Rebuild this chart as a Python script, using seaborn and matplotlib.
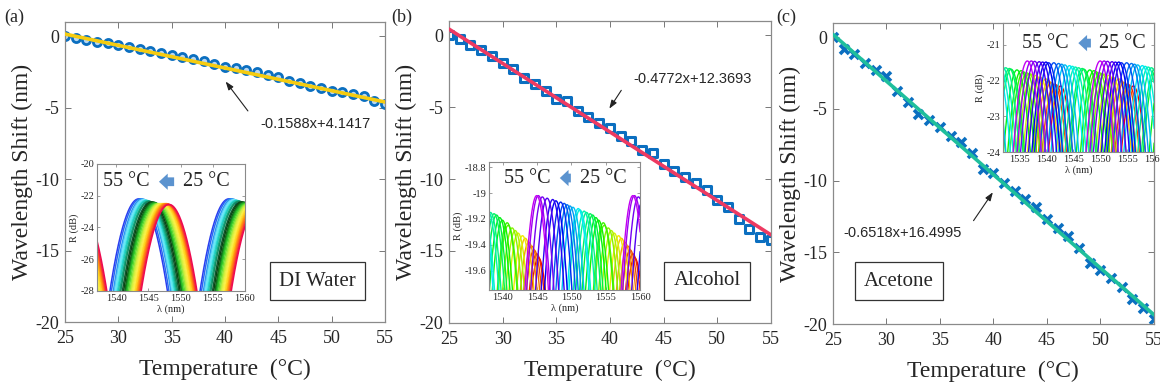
import colorsys
import numpy as np
import pandas as pd
import seaborn as sns
import matplotlib.pyplot as plt

# main data: wavelength shift vs temperature for three liquids
temps = list(range(25, 56))
water_shift = [0, -0.14, -0.26, -0.37, -0.49, -0.60, -0.72, -0.88, -1.00, -1.16, -1.30,
               -1.47, -1.58, -1.74, -1.93, -2.12, -2.23, -2.35, -2.47, -2.67, -2.86,
               -3.09, -3.26, -3.44, -3.60, -3.79, -3.90, -4.02, -4.19, -4.49, -4.72]
alcohol_shift = [0, -0.26, -0.65, -1.00, -1.42, -1.93, -2.33, -2.98, -3.40, -3.84, -4.42,
                 -4.56, -5.26, -5.65, -6.12, -6.47, -7.00, -7.35, -7.98, -8.21, -8.98,
                 -9.42, -9.84, -10.26, -10.77, -11.47, -11.93, -12.74, -13.44, -14.02, -14.26]
acetone_shift = [0, -0.81, -1.16, -1.79, -2.25, -2.71, -3.76, -4.52, -5.34, -5.80, -6.26,
                 -6.91, -7.31, -8.07, -9.16, -9.47, -10.14, -10.74, -11.30, -11.83, -12.69,
                 -13.29, -13.85, -14.73, -15.71, -16.20, -16.82, -17.45, -18.28, -18.91, -19.65]
shifts = [water_shift, alcohol_shift, acetone_shift]

fit_slope = [-0.1588, -0.4772, -0.6518]
fit_icpt = [4.1417, 12.3693, 16.4995]
fit_text = ['-0.1588x+4.1417', '-0.4772x+12.3693', '-0.6518x+16.4995']
liquids = ['DI Water', 'Alcohol', 'Acetone']
panel_tags = ['(a)', '(b)', '(c)']

# inset spectra: 25 °C peak wavelength, fringe period, curvature (dB/nm^2), peak level per temperature
spec_peak25 = [1548.2, 1559.2, 1569.65]
spec_period = [14.0, 14.0, 13.5]
spec_curv = [0.29, 0.25, 0.37]
water_peak_db = [-22.55, -22.55, -22.55, -22.5, -22.5, -22.5, -22.5, -22.5, -22.5, -22.5, -22.5,
                 -22.5, -22.5, -22.5, -22.5, -22.5, -22.45, -22.45, -22.4, -22.4, -22.4,
                 -22.35, -22.35, -22.3, -22.3, -22.3, -22.25, -22.25, -22.2, -22.2, -22.2]
alcohol_peak_db = [-19.50, -19.47, -19.44, -19.41, -19.38, -19.35, -19.33, -19.31, -19.29, -19.27,
                   -19.25, -19.23, -19.21, -19.19, -19.17, -19.16, -19.15, -19.14, -19.13, -19.12,
                   -19.11, -19.10, -19.09, -19.08, -19.07, -19.06, -19.05, -19.04, -19.03, -19.02, -19.02]
acetone_peak_db = [-22.15, -22.12, -22.10, -22.05, -22.00, -21.95, -21.90, -21.85, -21.82, -21.80,
                   -21.78, -21.75, -21.72, -21.70, -21.68, -21.66, -21.64, -21.62, -21.60, -21.58,
                   -21.56, -21.54, -21.52, -21.50, -21.50, -21.48, -21.48, -21.47, -21.46, -21.45, -21.45]
peak_db = [water_peak_db, alcohol_peak_db, acetone_peak_db]
inset_xlim = [(1537, 1560), (1538, 1560), (1532, 1560)]
inset_ylim = [(-28, -20), (-19.75, -18.76), (-24, -20.39)]
inset_xticks = [[1540, 1545, 1550, 1555, 1560], [1540, 1545, 1550, 1555, 1560],
                [1535, 1540, 1545, 1550, 1555, 1560]]
inset_yticks = [[-20, -22, -24, -26, -28], [-18.8, -19, -19.2, -19.4, -19.6], [-21, -22, -23, -24]]
# colour anchors of the DI water spectra (25 °C -> 55 °C)
water_colors = ['#ee0a50', '#ff5a1e', '#ff9a10', '#ffd21a', '#fff04a', '#d8f040',
                '#8ee83a', '#2ec82a', '#0f7a1a', '#0b3a12', '#12a070', '#22d8d0',
                '#7ef0ff', '#2aa0f0', '#2a3cf0']
hue_end = [0.68, 0.80, 0.80]

# styles
marker_style = [dict(marker='o', s=34, facecolor='#b9d7f0', edgecolor='#0b6fc0', linewidth=2),
                dict(marker='s', s=36, facecolor='white', edgecolor='#0b6fc0', linewidth=2.2),
                dict(marker='x', s=42, color='#0b6fc0', linewidth=2.6)]
line_color = ['#f6cc10', '#ee3a62', '#1fbf9c']
spec_lw = [1.1, 1.0, 1.0]

ax_pos = [[0.056, 0.172, 0.276, 0.771], [0.387, 0.170, 0.2776, 0.776], [0.718, 0.167, 0.2767, 0.774]]
ins_pos = [[0.0836, 0.252, 0.1276, 0.3265], [0.4216, 0.2545, 0.1302, 0.329], [0.8647, 0.609, 0.1302, 0.3316]]
ann_tip = [(39.9, -3.0), (39.8, -5.26), (40.1, -10.65)]
ann_tail = [(42.3, -5.37), (41.2, -3.66), (38.0, -12.95)]
ann_text = [(48.5, -6.14), (47.7, -3.03), (31.5, -13.65)]
box_xy = [(48.67, -17.13), (49.04, -17.08), (31.17, -17.0)]
tag_x = [0.004, 0.337, 0.669]
label_x = [[0.03, 0.36, 0.40, 0.54, 0.57, 0.91, 0.86],
           [0.093, 0.417, 0.45, 0.56, 0.60, 0.92, 0.875],
           [0.126, 0.44, 0.48, 0.60, 0.63, 0.95, 0.845]]

sns.set_style('ticks')
plt.rcParams['font.family'] = ['Liberation Serif', 'DejaVu Serif']
plt.rcParams['axes.unicode_minus'] = False
plt.rcParams['xtick.direction'] = 'in'
plt.rcParams['ytick.direction'] = 'in'
plt.rcParams['xtick.top'] = True
plt.rcParams['ytick.right'] = True

fig = plt.figure(figsize=(11.6, 3.89), dpi=100)

for k in range(3):
    ax = fig.add_axes(ax_pos[k])
    sns.scatterplot(x=temps, y=shifts[k], ax=ax, zorder=2, legend=False, **marker_style[k])
    fit_x = np.array(temps, dtype=float)
    sns.lineplot(x=fit_x, y=fit_slope[k] * fit_x + fit_icpt[k], ax=ax,
                 color=line_color[k], lw=2.6, zorder=3)
    ax.set_xlim(25, 55)
    ax.set_ylim(-20, 1)
    ax.set_xticks([25, 30, 35, 40, 45, 50, 55])
    ax.set_yticks([0, -5, -10, -15, -20])
    ax.tick_params(labelsize=13, length=4, width=0.7, color='#777777')
    ax.tick_params(axis='x', pad=6)
    ax.tick_params(axis='y', pad=4)
    for sp in ax.spines.values():
        sp.set_color('#8a8a8a')
        sp.set_linewidth(0.9)
    ax.set_xlabel('Temperature  (°C)', fontsize=17, labelpad=8)
    ax.set_ylabel('Wavelength Shift (nm)', fontsize=17, labelpad=2)

    ax.annotate('', xy=ann_tip[k], xytext=ann_tail[k],
                arrowprops=dict(arrowstyle='-|>,head_width=0.18,head_length=0.5',
                                color='#222222', lw=0.8))
    ax.text(*ann_text[k], fit_text[k], fontsize=10.5, ha='center', va='center',
            family=['Liberation Sans', 'DejaVu Sans'])
    ax.text(*box_xy[k], liquids[k], fontsize=15, ha='center', va='center',
            bbox=dict(boxstyle='square,pad=0.45', fc='white', ec='#333333', lw=0.9))
    fig.text(tag_x[k], 0.955, panel_tags[k], fontsize=13, va='center')

    # inset: reflection spectra from 25 °C to 55 °C
    ins = fig.add_axes(ins_pos[k])
    lam = np.linspace(inset_xlim[k][0], inset_xlim[k][1], 700)
    P = spec_period[k]
    frames = []
    for t, s, pk in zip(temps, shifts[k], peak_db[k]):
        d = (lam - (spec_peak25[k] + s) + P / 2) % P - P / 2
        frames.append(pd.DataFrame({'lam': lam, 'R': pk - spec_curv[k] * d ** 2, 'T': t}))
    spec = pd.concat(frames, ignore_index=True)
    n = len(temps)
    if k == 0:
        cols = sns.blend_palette(water_colors, n)
        order = temps[::-1]
    else:
        cols = [colorsys.hsv_to_rgb(hue_end[k] * i / (n - 1), 1.0, 0.95) for i in range(n)]
        order = temps
    pal = dict(zip(temps, cols))
    sns.lineplot(data=spec, x='lam', y='R', hue='T', palette=pal, hue_order=order,
                 lw=spec_lw[k], estimator=None, sort=False, legend=False, ax=ins)
    ins.set_xlim(*inset_xlim[k])
    ins.set_ylim(*inset_ylim[k])
    ins.set_xticks(inset_xticks[k])
    ins.set_yticks(inset_yticks[k])
    ins.set_yticklabels(['%g' % v for v in inset_yticks[k]])
    ins.tick_params(labelsize=7.5, length=2, width=0.5, color='#777777', pad=2)
    for sp in ins.spines.values():
        sp.set_color('#8a8a8a')
        sp.set_linewidth(0.8)
    ins.set_xlabel('λ (nm)', fontsize=7.5, labelpad=1)
    ins.set_ylabel('R (dB)', fontsize=7.5, labelpad=1)

    lx = label_x[k]
    ins.text((lx[0] + lx[1]) / 2, lx[6], '55 °C', transform=ins.transAxes,
             fontsize=14.5, ha='center', va='center')
    ins.text((lx[4] + lx[5]) / 2, lx[6], '25 °C', transform=ins.transAxes,
             fontsize=14.5, ha='center', va='center')
    ins.annotate('', xy=(lx[2], lx[6]), xytext=(lx[3], lx[6]),
                 xycoords='axes fraction', textcoords='axes fraction',
                 arrowprops=dict(arrowstyle='simple,head_width=1.3,head_length=0.7,tail_width=0.7',
                                 mutation_scale=9, color='#5b93cf', lw=0))

fig.savefig('out.png', dpi=100)
